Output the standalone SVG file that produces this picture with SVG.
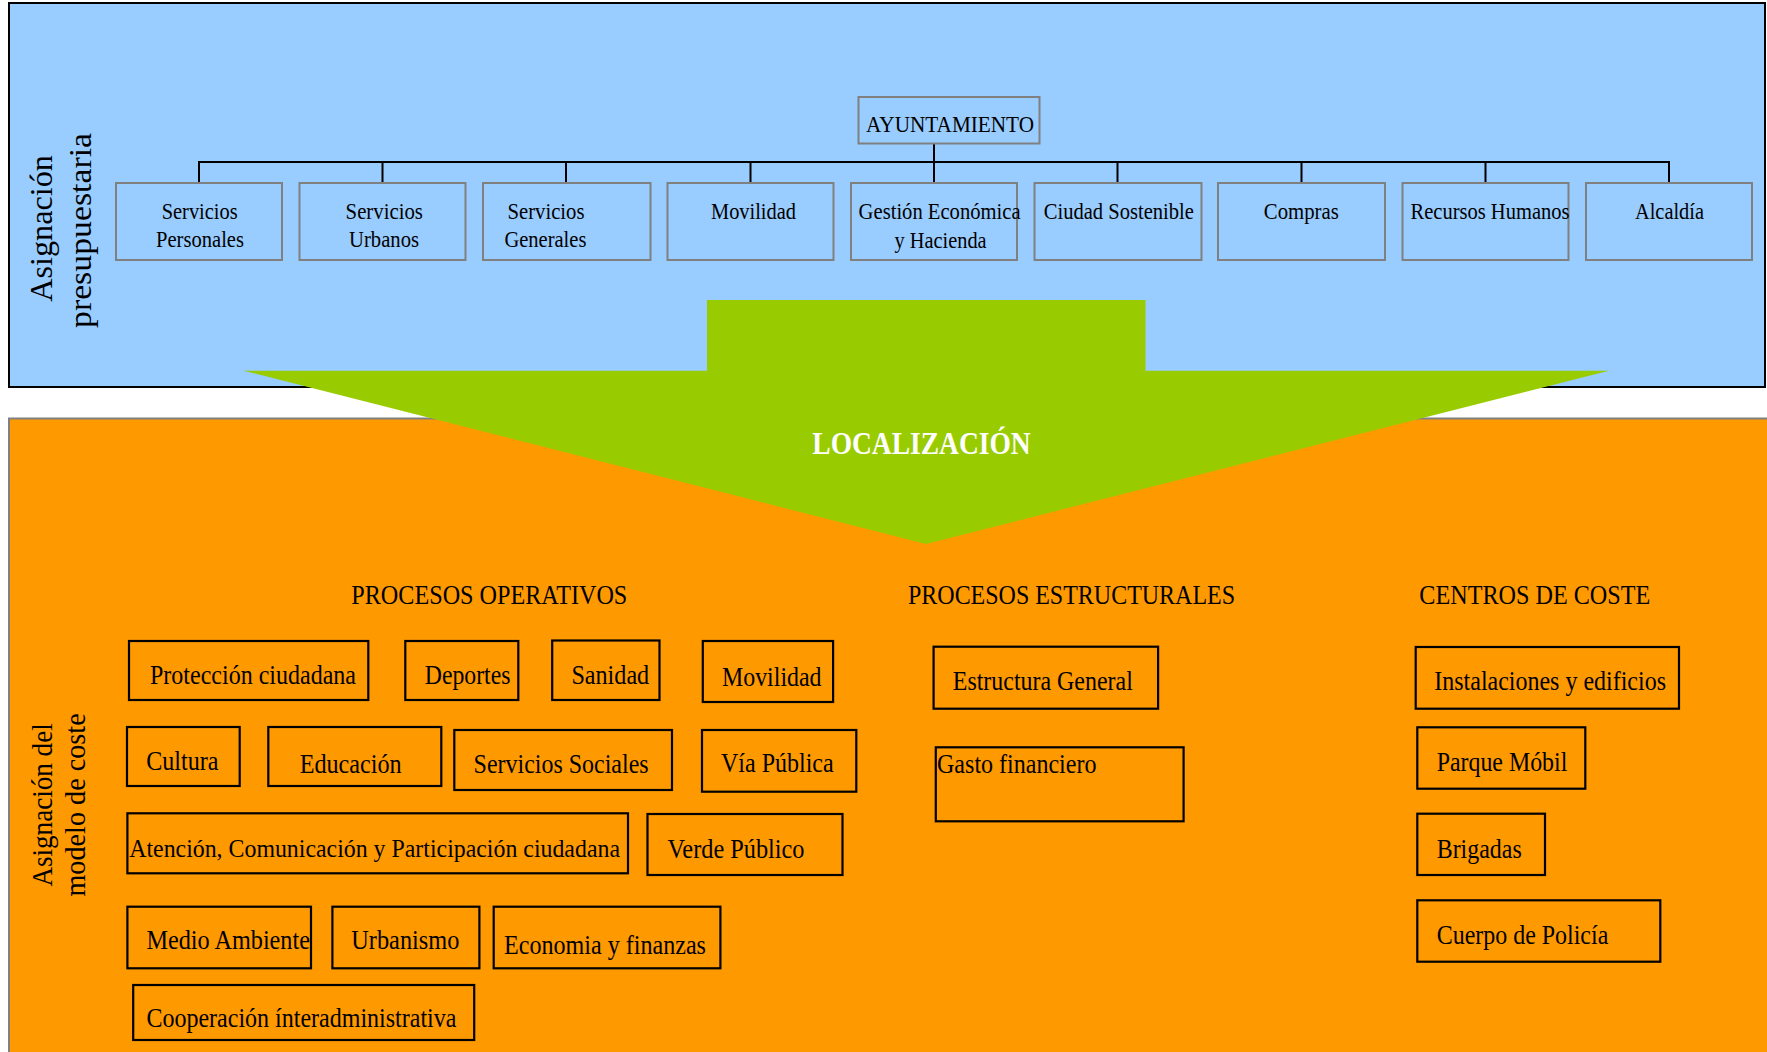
<svg xmlns="http://www.w3.org/2000/svg" width="1767" height="1052" viewBox="0 0 1767 1052">
<style>
text{font-family:"Liberation Serif","Times New Roman",serif;fill:#000}
.t{font-size:23.5px}
.l{font-size:28px}
.h{font-size:28px}
.v{font-size:32px}
.tb rect{fill:#99CCFF;stroke:#808080;stroke-width:2}
.lb rect{fill:#FF9900;stroke:#000;stroke-width:2.2}
.conn line{stroke:#000;stroke-width:2}
</style>
<rect x="0" y="0" width="1767" height="1052" fill="#fff"/>
<rect id="panel-top" x="9" y="3" width="1756" height="384" fill="#99CCFF" stroke="#000" stroke-width="2"/>
<rect id="panel-bottom" x="9" y="418.5" width="1770" height="640" fill="#FF9900" stroke="#808080" stroke-width="2"/>

<g id="label-top">
<text class="v" transform="translate(52,228.5) rotate(-90)" x="-73.3" y="0" textLength="146.7" lengthAdjust="spacingAndGlyphs">Asignación</text>
<text class="v" transform="translate(91,230.5) rotate(-90)" x="-97.5" y="0" textLength="195" lengthAdjust="spacingAndGlyphs">presupuestaria</text>
</g>
<g id="label-bottom">
<text style="font-size:30px" transform="translate(52.3,805) rotate(-90)" x="-81.6" y="0" textLength="163.3" lengthAdjust="spacingAndGlyphs">Asignación del</text>
<text style="font-size:30px" transform="translate(85,805) rotate(-90)" x="-91.6" y="0" textLength="183.3" lengthAdjust="spacingAndGlyphs">modelo de coste</text>
</g>

<g class="conn" id="connectors">
<line x1="934" y1="143" x2="934" y2="183"/>
<line x1="199" y1="162" x2="1669" y2="162"/>
<line x1="199" y1="161" x2="199" y2="183"/>
<line x1="382.5" y1="162" x2="382.5" y2="183"/>
<line x1="566" y1="162" x2="566" y2="183"/>
<line x1="750.5" y1="162" x2="750.5" y2="183"/>
<line x1="1117.5" y1="162" x2="1117.5" y2="183"/>
<line x1="1301.5" y1="162" x2="1301.5" y2="183"/>
<line x1="1485.5" y1="162" x2="1485.5" y2="183"/>
<line x1="1669" y1="161" x2="1669" y2="183"/>
</g>

<g class="tb">
<g id="ayuntamiento"><rect x="858.5" y="97" width="181" height="46.5"/><text x="866" y="131.7" style="font-size:24px" textLength="168" lengthAdjust="spacingAndGlyphs">AYUNTAMIENTO</text></g>
<g id="servicios-personales"><rect x="116" y="183" width="166" height="77"/><text class="t" x="161.7" y="219" textLength="76" lengthAdjust="spacingAndGlyphs">Servicios</text><text class="t" x="156" y="246.7" textLength="88" lengthAdjust="spacingAndGlyphs">Personales</text></g>
<g id="servicios-urbanos"><rect x="299.5" y="183" width="166" height="77"/><text class="t" x="345.6" y="219" textLength="77.3" lengthAdjust="spacingAndGlyphs">Servicios</text><text class="t" x="349" y="246.7" textLength="70" lengthAdjust="spacingAndGlyphs">Urbanos</text></g>
<g id="servicios-generales"><rect x="483" y="183" width="167.5" height="77"/><text class="t" x="507.5" y="219" textLength="77" lengthAdjust="spacingAndGlyphs">Servicios</text><text class="t" x="504.4" y="246.7" textLength="82" lengthAdjust="spacingAndGlyphs">Generales</text></g>
<g id="movilidad-top"><rect x="667.5" y="183" width="166" height="77"/><text class="t" x="711" y="219" textLength="85" lengthAdjust="spacingAndGlyphs">Movilidad</text></g>
<g id="gestion"><rect x="851" y="183" width="166" height="77"/><text class="t" x="858.6" y="219" textLength="162" lengthAdjust="spacingAndGlyphs">Gestión Económica</text><text class="t" x="894.6" y="248" textLength="92" lengthAdjust="spacingAndGlyphs">y Hacienda</text></g>
<g id="ciudad-sostenible"><rect x="1034.5" y="183" width="167" height="77"/><text class="t" x="1043.8" y="219" textLength="150" lengthAdjust="spacingAndGlyphs">Ciudad Sostenible</text></g>
<g id="compras"><rect x="1218" y="183" width="167" height="77"/><text class="t" x="1263.8" y="219" textLength="75" lengthAdjust="spacingAndGlyphs">Compras</text></g>
<g id="recursos-humanos"><rect x="1402.5" y="183" width="166" height="77"/><text class="t" x="1410.5" y="219" textLength="159" lengthAdjust="spacingAndGlyphs">Recursos Humanos</text></g>
<g id="alcaldia"><rect x="1586" y="183" width="166" height="77"/><text class="t" x="1635" y="219" textLength="69" lengthAdjust="spacingAndGlyphs">Alcaldía</text></g>
</g>

<g id="arrow">
<polygon points="707,300 1145.5,300 1145.5,370.7 1609,370.7 926,544 243.5,370.7 707,370.7" fill="#99CC00"/>
<text x="812.3" y="454.3" style="font-size:32px;font-weight:bold;fill:#fff" textLength="218.4" lengthAdjust="spacingAndGlyphs">LOCALIZACIÓN</text>
</g>

<g id="headings">
<text class="h" x="351.3" y="604" textLength="276" lengthAdjust="spacingAndGlyphs">PROCESOS OPERATIVOS</text>
<text class="h" x="908" y="603.5" textLength="327" lengthAdjust="spacingAndGlyphs">PROCESOS ESTRUCTURALES</text>
<text class="h" x="1419.3" y="604" textLength="231" lengthAdjust="spacingAndGlyphs">CENTROS DE COSTE</text>
</g>

<g class="lb">
<g id="proteccion"><rect x="129" y="641" width="239.3" height="59"/><text class="l" x="150" y="684" textLength="206" lengthAdjust="spacingAndGlyphs">Protección ciudadana</text></g>
<g id="deportes"><rect x="405.3" y="641" width="113" height="59"/><text class="l" x="424.8" y="684" textLength="85.7" lengthAdjust="spacingAndGlyphs">Deportes</text></g>
<g id="sanidad"><rect x="552.2" y="640.5" width="107.3" height="59.5"/><text class="l" x="571.4" y="683.5" textLength="77.8" lengthAdjust="spacingAndGlyphs">Sanidad</text></g>
<g id="movilidad"><rect x="702.8" y="641" width="130.3" height="61"/><text class="l" x="722" y="685.7" textLength="99.5" lengthAdjust="spacingAndGlyphs">Movilidad</text></g>
<g id="cultura"><rect x="127" y="727" width="112.7" height="59"/><text class="l" x="146.2" y="770" textLength="72.3" lengthAdjust="spacingAndGlyphs">Cultura</text></g>
<g id="educacion"><rect x="268.3" y="727" width="173" height="59"/><text class="l" x="299.7" y="772.7" textLength="102" lengthAdjust="spacingAndGlyphs">Educación</text></g>
<g id="servicios-sociales"><rect x="454.3" y="730" width="217.7" height="60"/><text class="l" x="473.6" y="772.7" textLength="175" lengthAdjust="spacingAndGlyphs">Servicios Sociales</text></g>
<g id="via-publica"><rect x="702" y="730" width="154.3" height="61.7"/><text class="l" x="721" y="772.3" textLength="112.6" lengthAdjust="spacingAndGlyphs">Vía Pública</text></g>
<g id="atencion"><rect x="127.4" y="813.3" width="500.6" height="60"/><text x="129.2" y="856.7" style="font-size:26px" textLength="490.8" lengthAdjust="spacingAndGlyphs">Atención, Comunicación y Participación ciudadana</text></g>
<g id="verde-publico"><rect x="647.5" y="814" width="195" height="61"/><text class="l" x="667.5" y="858.3" textLength="137" lengthAdjust="spacingAndGlyphs">Verde Público</text></g>
<g id="medio-ambiente"><rect x="127.4" y="906.7" width="183.6" height="61.6"/><text class="l" x="146.4" y="949.3" textLength="163.6" lengthAdjust="spacingAndGlyphs">Medio Ambiente</text></g>
<g id="urbanismo"><rect x="332.4" y="906.7" width="147" height="61.6"/><text class="l" x="351.3" y="949.3" textLength="108" lengthAdjust="spacingAndGlyphs">Urbanismo</text></g>
<g id="economia"><rect x="493.7" y="906.7" width="226.7" height="61.6"/><text class="l" x="504" y="954" textLength="202" lengthAdjust="spacingAndGlyphs">Economia y finanzas</text></g>
<g id="cooperacion"><rect x="133.2" y="985" width="341" height="55"/><text class="l" x="146.4" y="1027.3" textLength="310" lengthAdjust="spacingAndGlyphs">Cooperación ínteradministrativa</text></g>
<g id="estructura-general"><rect x="933.6" y="646.7" width="224.5" height="62"/><text class="l" x="952.8" y="690" textLength="180" lengthAdjust="spacingAndGlyphs">Estructura General</text></g>
<g id="gasto-financiero"><rect x="935.8" y="747.3" width="247.8" height="74"/><text class="l" x="937" y="773.3" textLength="159.5" lengthAdjust="spacingAndGlyphs">Gasto financiero</text></g>
<g id="instalaciones"><rect x="1415.7" y="647" width="263.3" height="61.7"/><text class="l" x="1434.3" y="690" textLength="231.7" lengthAdjust="spacingAndGlyphs">Instalaciones y edificios</text></g>
<g id="parque-mobil"><rect x="1417.3" y="727.3" width="168" height="61.4"/><text class="l" x="1436.7" y="771" textLength="130.6" lengthAdjust="spacingAndGlyphs">Parque Móbil</text></g>
<g id="brigadas"><rect x="1417.3" y="813.7" width="127.7" height="61.3"/><text class="l" x="1436.7" y="858.3" textLength="85" lengthAdjust="spacingAndGlyphs">Brigadas</text></g>
<g id="cuerpo-policia"><rect x="1417.3" y="900.3" width="243" height="61.4"/><text class="l" x="1436.7" y="944.3" textLength="171.6" lengthAdjust="spacingAndGlyphs">Cuerpo de Policía</text></g>
</g>
</svg>
